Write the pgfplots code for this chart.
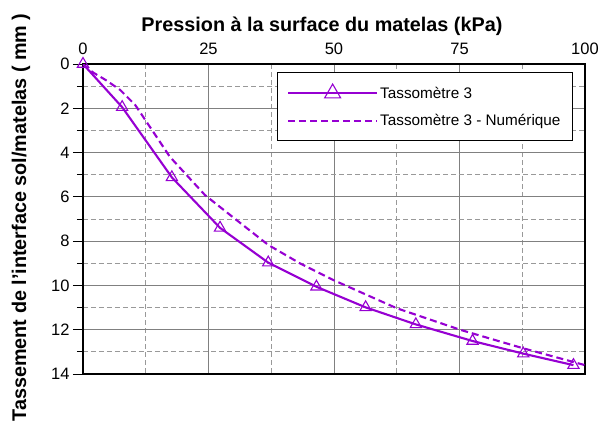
\documentclass[border=0pt]{standalone}
\usepackage{fontspec}
\setmainfont{Liberation Sans}
\usepackage{pgfplots}
\pgfplotsset{compat=1.18}
\definecolor{violetline}{RGB}{150,0,210}
\pgfplotsset{
    triLegend/.style={legend image code/.code={
        \draw[##1, line width=2.1bp,
            mark options={solid, fill=white, draw=violetline, line width=1.1bp, mark size=9.2bp},
            mark repeat=2, mark phase=2]
            plot coordinates {(0bp,0bp) (44.5bp,0bp) (89bp,0bp)};}},
    lineLegend/.style={legend image code/.code={
        \draw[##1, line width=2.1bp] plot coordinates {(0bp,0bp) (89bp,0bp)};}},
}

\begin{document}
\begin{tikzpicture}
\begin{axis}[
    scale only axis,
    width=502bp, height=310bp,
    xmin=0, xmax=100, ymin=0, ymax=14,
    y dir=reverse,
    xtick={0,25,50,75,100},
    ytick={0,2,...,14},
    minor x tick num=1,
    minor y tick num=1,
    xticklabel pos=upper,
    xtick pos=upper,
    ytick pos=left,
    tick align=outside,
    major tick length=10bp,
    minor tick length=6bp,
    x tick style={draw=none},
    y tick style={black, line width=0.8bp},
    grid=both,
    major grid style={gray, line width=0.8bp},
    minor grid style={gray!80, dash pattern=on 5bp off 3bp, line width=0.8bp},
    axis line style={black, line width=1.2bp},
    /pgf/number format/assume math mode=true,
    ticklabel style={font=\fontsize{16.5bp}{19bp}\selectfont},
    xticklabel style={yshift=-4bp},
    xlabel={Pression à la surface du matelas (kPa)},
    xlabel style={at={(axis description cs:0.476,1)}, anchor=base, yshift=33bp,
        font=\bfseries\fontsize{19.8bp}{23bp}\selectfont},
    ylabel={Tassement de l'interface sol/matelas ( mm )},
    ylabel style={at={(axis description cs:-0.1235,0.505)}, anchor=center, rotate=0,
        font=\bfseries\fontsize{19.8bp}{23bp}\selectfont},
    legend cell align=left,
    legend style={at={(axis description cs:0.976,0.974)}, anchor=north east,
        font=\fontsize{15.3bp}{18bp}\selectfont, draw=black, line width=1bp,
        inner xsep=10bp, inner ysep=11.5bp, row sep=10.7bp,
        /tikz/every even column/.append style={column sep=6bp}},
]
\addplot[violetline, line width=2.1bp, mark=triangle,
    mark options={solid, fill=white, draw=violetline, line width=1.1bp, mark size=6.5bp},
    triLegend]
    coordinates {
    (0,0) (7.8,1.95) (17.7,5.12) (27.3,7.4) (36.9,8.97) (46.5,10.06)
    (56.3,10.99) (66.3,11.76) (77.6,12.51) (87.7,13.08) (97.7,13.6)
};
\addlegendentry{Tassomètre 3}

\addplot[violetline, line width=2.1bp, dash pattern=on 7bp off 4bp, lineLegend]
    coordinates {
    (0,0) (2.05,0.39) (4.5,0.72) (7.4,1.17) (10.4,1.85) (13.3,2.83)
    (17.3,4.19) (24.3,5.92) (30.6,7.05) (36.9,8.17) (43.2,9.0)
    (49.9,9.76) (62.5,11.03) (75.1,12.0) (87.7,12.84) (100,13.6)
};
\addlegendentry{Tassomètre 3 - Numérique}

\coordinate (LL) at (axis description cs:0,0);
\coordinate (UR) at (axis description cs:1,1);
\end{axis}
\pgfresetboundingbox
\path[use as bounding box] ([shift={(-83bp,-55bp)}]LL) rectangle ([shift={(18bp,64bp)}]UR);
\end{tikzpicture}
\end{document}
